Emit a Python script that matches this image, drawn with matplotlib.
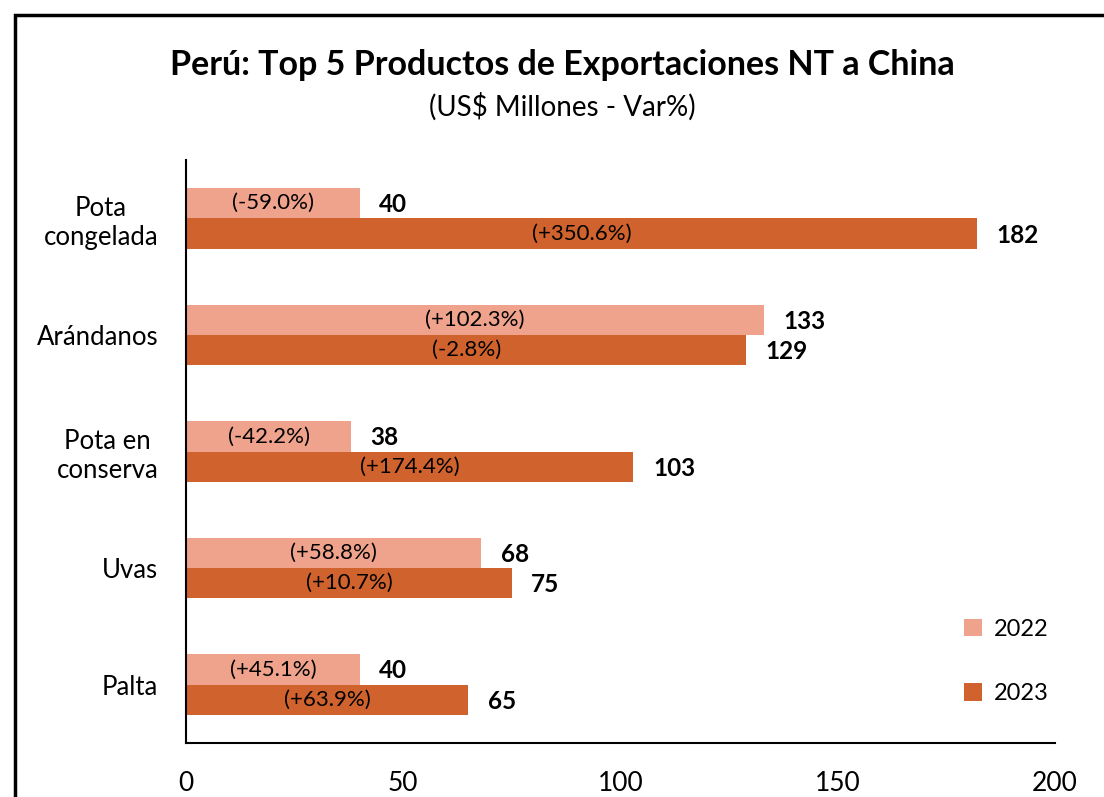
import numpy as np
import matplotlib.pyplot as plt
from matplotlib.patches import Rectangle

plt.rcParams['font.family'] = ['Lato', 'DejaVu Sans']

# data
productos = ["Pota\ncongelada", "Arándanos", "Pota en\nconserva", "Uvas", "Palta"]
valores_2022 = [40, 133, 38, 68, 40]
valores_2023 = [182, 129, 103, 75, 65]
var_2022 = ["(-59.0%)", "(+102.3%)", "(-42.2%)", "(+58.8%)", "(+45.1%)"]
var_2023 = ["(+350.6%)", "(-2.8%)", "(+174.4%)", "(+10.7%)", "(+63.9%)"]
x_ticks = [0, 50, 100, 150, 200]

color_2022 = "#EFA38D"
color_2023 = "#D0622D"

fig = plt.figure(figsize=(11.04, 7.97), dpi=100)
ax = fig.add_axes([0.1685, 0.0678, 0.787, 0.7312])

y = np.arange(len(productos))
h = 0.26
b1 = ax.barh(y - h / 2, valores_2022, height=h, color=color_2022, label="2022")
b2 = ax.barh(y + h / 2, valores_2023, height=h, color=color_2023, label="2023")

for bars, vals, pcts in [(b1, valores_2022, var_2022), (b2, valores_2023, var_2023)]:
    for bar, v, p in zip(bars, vals, pcts):
        cy = bar.get_y() + bar.get_height() / 2
        ax.text(v / 2, cy, p, ha="center", va="center", fontsize=16, color="black")
        ax.annotate(str(v), (v, cy), xytext=(14, -1), textcoords="offset points",
                    ha="left", va="center", fontsize=17.5, fontweight="bold")

ax.set_ylim(len(productos) - 0.5, -0.5)
ax.set_xlim(0, 200)
ax.set_xticks(x_ticks)
ax.set_yticks(y)
ax.set_yticklabels(productos, multialignment="center")
ax.tick_params(axis="x", length=0, labelsize=19, pad=20)
ax.tick_params(axis="y", length=0, labelsize=18.5, pad=20)
for s in ["top", "right"]:
    ax.spines[s].set_visible(False)
for s in ["left", "bottom"]:
    ax.spines[s].set_linewidth(1.5)

ax.legend(loc="lower right", bbox_to_anchor=(1.017, 0.03), frameon=False, fontsize=17,
          handlelength=0.75, handleheight=0.75, labelspacing=1.85, handletextpad=0.5)

fig.text(0.509, 0.918, "Perú: Top 5 Productos de Exportaciones NT a China",
         ha="center", va="center", fontsize=24.5, fontweight="bold")
fig.text(0.509, 0.866, "(US$ Millones - Var%)", ha="center", va="center", fontsize=20)

fig.patches.append(Rectangle((0.0135, -0.1), 1.2, 1.081, transform=fig.transFigure,
                             fill=False, edgecolor="black", linewidth=2.5))

fig.savefig("out.png", dpi=100)
